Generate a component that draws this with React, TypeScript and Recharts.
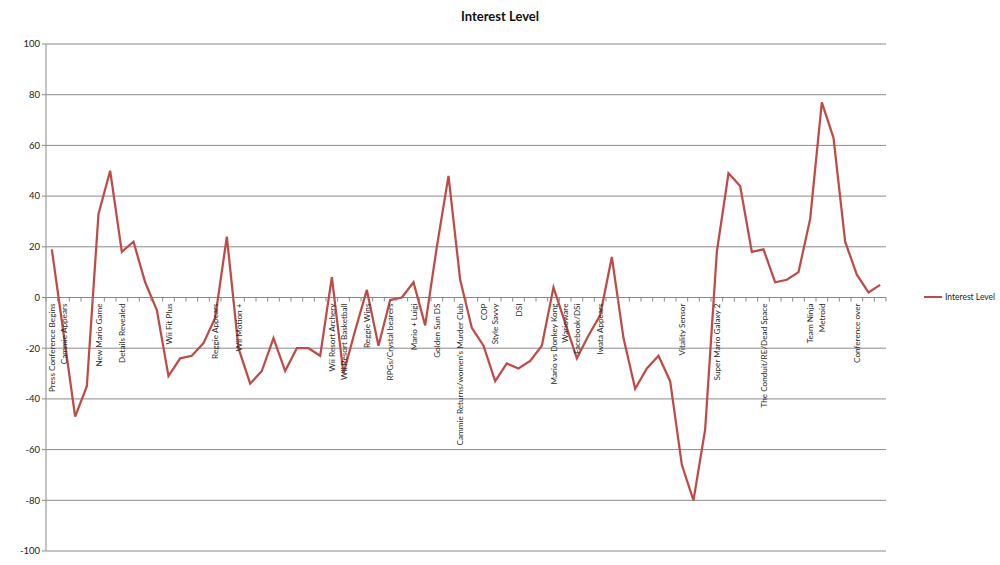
import { LineChart, Line, XAxis, YAxis, CartesianGrid } from "recharts";

const categories = [
  "Press Conference Begins", "Cammie Appears", "", "", "New Mario Game", "", "Details Revealed", "", "", "",
  "Wii Fit Plus", "", "", "", "Reggie Appears", "", "Wii Motion +", "", "", "",
  "", "", "", "", "Wii Resort Archery", "Wii Resort Basketball", "", "Reggie Wins", "", "RPGs/Crystal bearers",
  "", "Mario + Luigi", "", "Golden Sun DS", "", "Cammie Returns/women's Murder Club", "", "COP", "Style Savvy", "",
  "DSI", "", "", "Mario vs Donkey Kong", "Warioware", "Facebook/DSi", "", "Iwata Appears", "", "",
  "", "", "", "", "Vitality Sensor", "", "", "Super Mario Galaxy 2", "", "",
  "", "The Conduit/RE/Dead Space", "", "", "", "Team Ninja", "Metroid", "", "", "Conference over",
  "", "",
];

const interestLevel = [
  19, -14, -47, -35, 33, 50, 18, 22, 6, -5,
  -31, -24, -23, -18, -8, 24, -20, -34, -29, -16,
  -29, -20, -20, -23, 8, -30, -13, 3, -19, -1,
  0, 6, -11, 20, 48, 7, -12, -19, -33, -26,
  -28, -25, -19, 4, -10, -24, -15, -7, 16, -16,
  -36, -28, -23, -33, -66, -80, -52, 18, 49, 44,
  18, 19, 6, 7, 10, 31, 77, 63, 22, 9,
  2, 5,
];

const yTicks = [-100, -80, -60, -40, -20, 0, 20, 40, 60, 80, 100];

const data = interestLevel.map((v, i) => ({ idx: i, "Interest Level": v }));

const W = 1000;
const H = 565;
const PLOT_LEFT = 46;
const PLOT_RIGHT = 886;
const PLOT_TOP = 44;
const PLOT_BOTTOM = 551;
const ZERO_Y = (PLOT_TOP + PLOT_BOTTOM) / 2;
const STEP = (PLOT_RIGHT - PLOT_LEFT) / interestLevel.length;
const GRID = "#8a8a8a";
const RED = "#be4b48";
const FONT = "Lato, 'Liberation Sans', sans-serif";

// category labels sit on the zero line like Excel's "axis crosses at 0"
function CategoryTick(props: any) {
  const { x, index, payload } = props;
  const label = categories[payload.value];
  const ty = ZERO_Y + 6;
  return (
    <g>
      <line x1={x + STEP / 2} x2={x + STEP / 2} y1={ZERO_Y} y2={ZERO_Y + 4} stroke={GRID} />
      {index === 0 && <line x1={x - STEP / 2} x2={x - STEP / 2} y1={ZERO_Y} y2={ZERO_Y + 4} stroke={GRID} />}
      {label && (
        <text
          x={x}
          y={ty}
          transform={`rotate(-90 ${x} ${ty})`}
          textAnchor="end"
          dominantBaseline="central"
          fontSize={8.2}
          fontFamily={FONT}
          fill="#2a2a2a"
        >
          {label}
        </text>
      )}
    </g>
  );
}

export default function App() {
  return (
    <div style={{ position: "relative", width: W, height: H, background: "#fff" }}>
      <style>{"body{margin:0}"}</style>
      <div
        style={{
          position: "absolute",
          top: 8,
          left: 0,
          width: W,
          textAlign: "center",
          fontFamily: FONT,
          fontWeight: "bold",
          fontSize: 13,
          color: "#111",
        }}
      >
        Interest Level
      </div>
      <div
        style={{
          position: "absolute",
          left: 924,
          top: ZERO_Y - 6,
          display: "flex",
          alignItems: "center",
          fontFamily: FONT,
          fontSize: 8.5,
          color: "#222",
        }}
      >
        <span style={{ display: "inline-block", width: 18, height: 2, background: RED, marginRight: 3 }} />
        Interest Level
      </div>
      <LineChart
        width={W}
        height={H}
        data={data}
        margin={{ top: PLOT_TOP, right: W - PLOT_RIGHT, bottom: 0, left: 6 }}
      >
        <CartesianGrid vertical={false} stroke={GRID} />
        <XAxis
          dataKey="idx"
          type="category"
          height={H - PLOT_BOTTOM}
          interval={0}
          axisLine={false}
          tickLine={false}
          padding={{ left: STEP / 2, right: STEP / 2 }}
          tick={<CategoryTick />}
        />
        <YAxis
          width={40}
          domain={[-100, 100]}
          ticks={yTicks}
          interval={0}
          stroke={GRID}
          tickSize={4}
          tick={{ fontSize: 9.5, fontFamily: FONT, fill: "#222" }}
        />
        <Line
          type="linear"
          dataKey="Interest Level"
          stroke={RED}
          strokeWidth={2.25}
          dot={false}
          isAnimationActive={false}
        />
      </LineChart>
    </div>
  );
}
